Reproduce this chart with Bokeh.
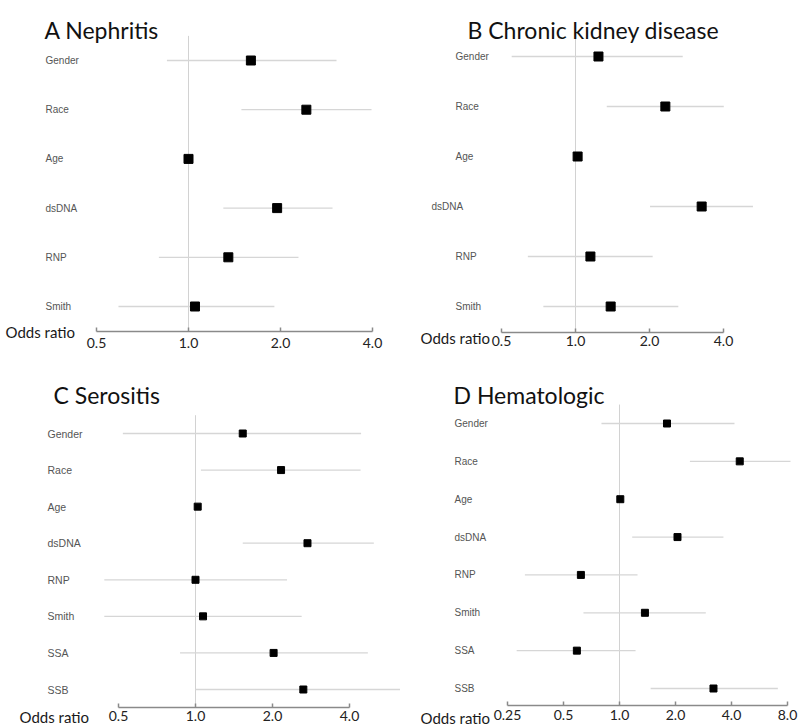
import math
from bokeh.plotting import figure
from bokeh.layouts import gridplot
from bokeh.models import Range1d, FixedTicker, CustomJSTickFormatter, Label
from bokeh.embed import file_html
from bokeh.resources import INLINE
from bokeh.core.properties import value

# ---------------- data ----------------
ROWS6 = ["Gender", "Race", "Age", "dsDNA", "RNP", "Smith"]
ROWS8 = ["Gender", "Race", "Age", "dsDNA", "RNP", "Smith", "SSA", "SSB"]

A_title = "A Nephritis"
A_or = [1.60, 2.43, 1.00, 1.95, 1.35, 1.05]
A_lo = [0.85, 1.49, 0.98, 1.30, 0.80, 0.59]
A_hi = [3.05, 3.97, 1.02, 2.96, 2.29, 1.91]

B_title = "B Chronic kidney disease"
B_or = [1.24, 2.32, 1.02, 3.26, 1.15, 1.39]
B_lo = [0.55, 1.34, 1.00, 2.01, 0.64, 0.74]
B_hi = [2.73, 4.01, 1.04, 5.27, 2.06, 2.62]

C_title = "C Serositis"
C_or = [1.53, 2.16, 1.02, 2.74, 1.00, 1.07, 2.02, 2.64]
C_lo = [0.52, 1.05, 1.00, 1.53, 0.44, 0.44, 0.87, 1.00]
C_hi = [4.44, 4.42, 1.04, 4.98, 2.28, 2.60, 4.72, 6.80]

D_title = "D Hematologic"
D_or = [1.80, 4.43, 1.01, 2.05, 0.62, 1.37, 0.59, 3.20]
D_lo = [0.80, 2.39, 0.99, 1.17, 0.31, 0.64, 0.28, 1.47]
D_hi = [4.15, 8.30, 1.03, 3.62, 1.25, 2.91, 1.22, 7.10]

TICKS_ABC = [0.5, 1.0, 2.0, 4.0]
TICKS_D = [0.25, 0.5, 1.0, 2.0, 4.0, 8.0]
NULL_OR = 1.0
AXIS_LABEL = "Odds ratio"

# ---------------- layout ----------------
W, H = 400, 363


def make_panel(title, cats, orr, lo, hi, ticks, L):
    n = len(cats)
    f, l = L["row_first"], L["row_last"]
    d = (l - f) / (n - 1)
    (v1, p1), (v2, p2) = L["xa"]
    k = (p2 - p1) / (math.log(v2) - math.log(v1))

    def xpx(px):
        return math.exp(math.log(v1) + (px - p1) / k)

    def ypx(py):
        return (py - f) / d

    y_axis = ypx(L["axis_y"])

    p = figure(width=W, height=H, x_axis_type="log",
               x_range=Range1d(xpx(0), xpx(W)),
               y_range=Range1d(ypx(H), ypx(0)),
               output_backend="svg", toolbar_location=None,
               y_axis_location=None,
               min_border_left=0, min_border_right=0,
               min_border_top=0, min_border_bottom=0)
    p.outline_line_color = None
    p.xgrid.visible = False
    p.ygrid.visible = False
    p.background_fill_color = "white"
    p.border_fill_color = "white"

    rows = list(range(n))

    # reference line at OR = 1
    p.segment(x0=[NULL_OR], x1=[NULL_OR], y0=[-0.5], y1=[y_axis],
              line_color="#d2d2d2", line_width=1)
    # confidence intervals
    p.segment(x0=lo, x1=hi, y0=rows, y1=rows,
              line_color="#d6d6d6", line_width=1.3)
    # point estimates
    p.scatter(x=orr, y=rows, marker="square", size=L["sq"],
              fill_color="black", line_color="black")

    # row labels
    shift = L.get("shift", {})
    lx = [xpx(L["label_x"] + shift.get(c, 0)) for c in cats]
    p.text(x=lx, y=rows, text=cats,
           text_font=value("Liberation Sans"), text_font_size=L["lab_fs"],
           text_color="#555555", text_baseline="middle", text_align="left")

    # title
    p.add_layout(Label(x=xpx(L["title"][0]), y=ypx(L["title"][1]), text=title,
                       text_font="Lato", text_font_size="23px",
                       text_color="#111111", text_baseline="middle",
                       text_align="left"))
    # "Odds ratio"
    p.add_layout(Label(x=xpx(L["odds"][0]), y=ypx(L["odds"][1]), text=AXIS_LABEL,
                       text_font="Lato", text_font_size="15px",
                       text_color="#1a1a1a", text_baseline="middle",
                       text_align="left"))

    ax = p.xaxis[0]
    ax.fixed_location = y_axis
    ax.ticker = FixedTicker(ticks=ticks)
    ax.formatter = CustomJSTickFormatter(
        code="return tick < 0.5 ? tick.toFixed(2) : tick.toFixed(1);")
    ax.bounds = (ticks[0], ticks[-1])
    ax.axis_line_color = "#8a8a8a"
    ax.axis_line_width = 1.5
    ax.major_tick_line_color = "#8a8a8a"
    ax.major_tick_line_width = 1.5
    ax.major_tick_in = 4
    ax.major_tick_out = 0
    ax.minor_tick_line_color = None
    ax.major_label_text_font = "Lato"
    ax.major_label_text_font_size = "14px"
    ax.major_label_text_color = "#222222"
    ax.major_label_standoff = L["standoff"]
    return p


LA = dict(row_first=60, row_last=306, axis_y=331,
          xa=((0.5, 96), (4.0, 372)), label_x=45, lab_fs="10px",
          title=(44, 29), odds=(5, 331), sq=9, standoff=6)
LB = dict(row_first=56, row_last=306, axis_y=332,
          xa=((0.5, 101), (4.0, 323)), label_x=55, lab_fs="10px",
          shift={"dsDNA": -24},
          title=(67, 29), odds=(20, 337), sq=9, standoff=3)
LC = dict(row_first=70, row_last=326, axis_y=344,
          xa=((0.5, 118), (4.0, 349)), label_x=47, lab_fs="10.5px",
          title=(53, 31), odds=(19, 353), sq=7, standoff=3)
LD = dict(row_first=60, row_last=325, axis_y=342,
          xa=((0.25, 107), (8.0, 387)), label_x=54, lab_fs="10px",
          title=(53, 31), odds=(20, 354), sq=7, standoff=4)

pa = make_panel(A_title, ROWS6, A_or, A_lo, A_hi, TICKS_ABC, LA)
pb = make_panel(B_title, ROWS6, B_or, B_lo, B_hi, TICKS_ABC, LB)
pc = make_panel(C_title, ROWS8, C_or, C_lo, C_hi, TICKS_ABC, LC)
pd = make_panel(D_title, ROWS8, D_or, D_lo, D_hi, TICKS_D, LD)

grid = gridplot([[pa, pb], [pc, pd]], toolbar_location=None)

open("out.html", "w").write(file_html(grid, INLINE))
